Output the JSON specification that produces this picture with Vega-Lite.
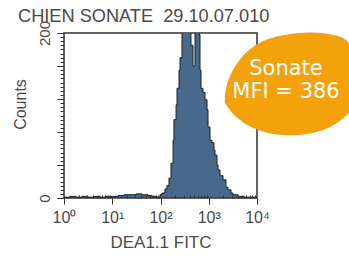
{
  "$schema": "https://vega.github.io/schema/vega-lite/v6.json",
  "autosize": "none",
  "width": 193,
  "height": 165,
  "padding": {"left": 64, "top": 33, "right": 92, "bottom": 58},
  "background": "white",
  "config": {
    "view": {"stroke": "#333", "strokeWidth": 1.5},
    "font": "Liberation Sans"
  },
  "title": {
    "text": "CHIEN SONATE \u00a029.10.07.010",
    "anchor": "start",
    "frame": "group",
    "dx": -46,
    "offset": 0,
    "dy": 6,
    "font": "Liberation Sans",
    "fontSize": 18.2,
    "fontWeight": "normal",
    "color": "#4a4a4a"
  },
  "datasets": {
    "hist": [
      {"fitc": 1, "count": 1}, {"fitc": 1.33, "count": 2}, {"fitc": 1.77, "count": 1},
      {"fitc": 2.36, "count": 2}, {"fitc": 3.14, "count": 1}, {"fitc": 4.19, "count": 2},
      {"fitc": 5.57, "count": 1}, {"fitc": 7.42, "count": 2}, {"fitc": 9.88, "count": 2},
      {"fitc": 13.2, "count": 3}, {"fitc": 17.5, "count": 4}, {"fitc": 23.3, "count": 4},
      {"fitc": 31.1, "count": 5}, {"fitc": 41.4, "count": 4}, {"fitc": 55.1, "count": 3},
      {"fitc": 66.6, "count": 2}, {"fitc": 76.9, "count": 2}, {"fitc": 84.6, "count": 1},
      {"fitc": 97.7, "count": 4}, {"fitc": 107, "count": 6}, {"fitc": 124, "count": 11},
      {"fitc": 136, "count": 15}, {"fitc": 150, "count": 24}, {"fitc": 165, "count": 42},
      {"fitc": 182, "count": 70}, {"fitc": 190, "count": 95}, {"fitc": 210, "count": 113},
      {"fitc": 220, "count": 133}, {"fitc": 242, "count": 155}, {"fitc": 254, "count": 170},
      {"fitc": 279, "count": 230}, {"fitc": 338, "count": 240}, {"fitc": 408, "count": 230},
      {"fitc": 428, "count": 185}, {"fitc": 472, "count": 160}, {"fitc": 519, "count": 220},
      {"fitc": 599, "count": 225}, {"fitc": 628, "count": 198}, {"fitc": 659, "count": 155},
      {"fitc": 691, "count": 133}, {"fitc": 760, "count": 128}, {"fitc": 836, "count": 119},
      {"fitc": 920, "count": 107}, {"fitc": 965, "count": 86}, {"fitc": 1061, "count": 70},
      {"fitc": 1167, "count": 67}, {"fitc": 1284, "count": 58}, {"fitc": 1348, "count": 52},
      {"fitc": 1483, "count": 40}, {"fitc": 1556, "count": 34}, {"fitc": 1711, "count": 27},
      {"fitc": 1974, "count": 22}, {"fitc": 2278, "count": 13}, {"fitc": 2506, "count": 10},
      {"fitc": 2892, "count": 6}, {"fitc": 3184, "count": 4}, {"fitc": 4040, "count": 2},
      {"fitc": 5380, "count": 1}, {"fitc": 7160, "count": 1}, {"fitc": 10000, "count": 0}
    ],
    "note": [
      {"fitc": 48300, "count": 137, "label": "Sonate\nMFI = 386"}
    ],
    "notetext": [
      {"fitc": 39900, "count": 156, "label": "Sonate\nMFI = 386"}
    ]
  },
  "layer": [
    {
      "data": {"name": "hist"},
      "mark": {
        "type": "area",
        "interpolate": "step-after",
        "clip": true,
        "fill": "#47698c",
        "stroke": "#1e1e1e",
        "strokeWidth": 1
      },
      "encoding": {
        "x": {
          "field": "fitc",
          "type": "quantitative",
          "scale": {"type": "log", "domain": [1, 10000], "nice": false},
          "axis": {
            "title": "DEA1.1 FITC",
            "titleFont": "Liberation Sans",
            "titleFontSize": 17,
            "titleFontWeight": "normal",
            "titleColor": "#4a4a4a",
            "titlePadding": 9,
            "tickCount": 100,
            "values": [1,2,3,4,5,6,7,8,9,10,20,30,40,50,60,70,80,90,100,200,300,400,500,600,700,800,900,1000,2000,3000,4000,5000,6000,7000,8000,9000,10000],
            "labelExpr": "datum.value == 1 ? '10⁰' : datum.value == 10 ? '10¹' : datum.value == 100 ? '10²' : datum.value == 1000 ? '10³' : datum.value == 10000 ? '10⁴' : ''",
            "labelOverlap": false,
            "labelFlush": false,
            "labelFont": "Liberation Sans",
            "labelFontSize": 16,
            "labelColor": "#4a4a4a",
            "labelPadding": 5,
            "domain": false,
            "grid": false,
            "tickColor": "#333",
            "tickSize": {"condition": {"test": "indexof([1,10,100,1000,10000], datum.value) >= 0", "value": 6}, "value": -3},
            "zindex": 1
          }
        },
        "y": {
          "field": "count",
          "type": "quantitative",
          "scale": {"domain": [0, 200], "nice": false, "zero": true},
          "axis": {
            "title": "Counts",
            "titleFont": "Liberation Sans",
            "titleFontSize": 16,
            "titleFontWeight": "normal",
            "titleColor": "#4a4a4a",
            "titlePadding": 9,
            "titleY": 71,
            "tickCount": 100,
            "values": [0,5,10,15,20,25,30,35,40,45,50,55,60,65,70,75,80,85,90,95,100,105,110,115,120,125,130,135,140,145,150,155,160,165,170,175,180,185,190,195,200],
            "labelExpr": "datum.value == 0 || datum.value == 200 ? datum.label : ''",
            "labelAngle": -90,
            "labelOverlap": false,
            "labelFlush": false,
            "labelFont": "Liberation Sans",
            "labelFontSize": 15,
            "labelColor": "#4a4a4a",
            "labelPadding": 5,
            "domain": false,
            "grid": false,
            "tickColor": "#333",
            "tickSize": {"condition": {"test": "datum.value % 40 == 0", "value": 7}, "value": 4},
            "zindex": 1
          }
        }
      }
    },
    {
      "data": {"name": "note"},
      "mark": {
        "type": "point",
        "shape": "M-0.93,0.25 C-0.95,-0.05 -0.75,-0.45 -0.4,-0.62 C-0.1,-0.75 0.4,-0.8 0.75,-0.68 C1.05,-0.5 1.05,0.1 0.85,0.38 C0.6,0.68 0.2,0.74 -0.15,0.71 C-0.5,0.68 -0.8,0.5 -0.93,0.25 Z",
        "size": 19600,
        "filled": true,
        "fill": "#f4a20c",
        "opacity": 1,
        "strokeWidth": 0,
        "clip": false
      },
      "encoding": {
        "x": {"field": "fitc", "type": "quantitative"},
        "y": {"field": "count", "type": "quantitative"}
      }
    },
    {
      "data": {"name": "notetext"},
      "mark": {
        "type": "text",
        "font": "DejaVu Sans",
        "fontSize": 21,
        "fill": "white",
        "lineBreak": "\n",
        "lineHeight": 23,
        "align": "center",
        "baseline": "middle",
        "clip": false
      },
      "encoding": {
        "x": {"field": "fitc", "type": "quantitative"},
        "y": {"field": "count", "type": "quantitative"},
        "text": {"field": "label"}
      }
    }
  ]
}
